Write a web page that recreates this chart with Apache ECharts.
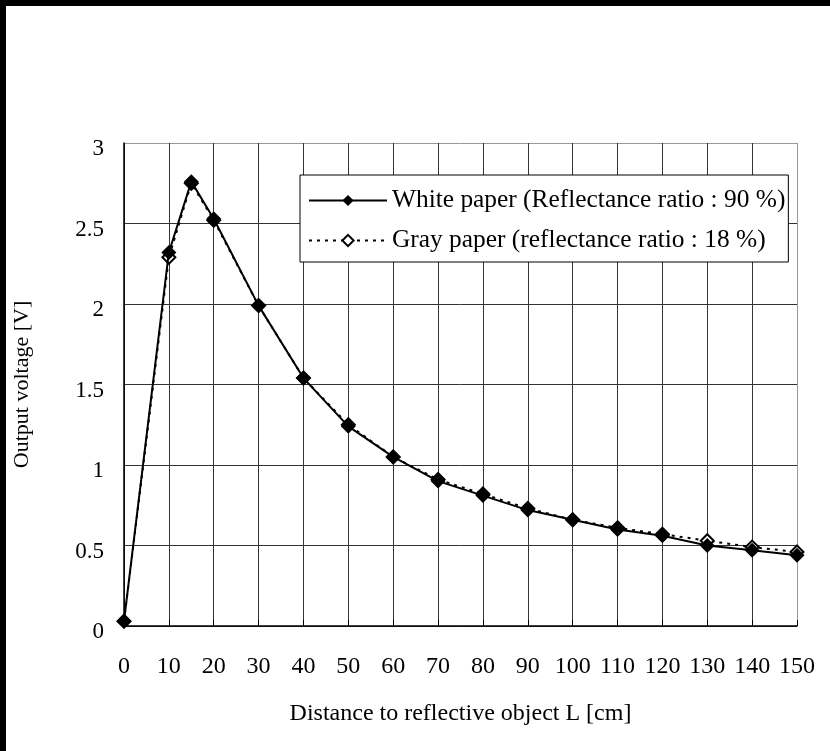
<!DOCTYPE html>
<html>
<head>
<meta charset="utf-8">
<script src="https://cdn.jsdelivr.net/npm/echarts@6/dist/echarts.min.js"></script>
<style>
html,body{margin:0;padding:0;background:#fff;}
#wrap{position:relative;width:830px;height:751px;background:#fff;overflow:hidden;}
#chart{position:absolute;left:0;top:0;width:830px;height:751px;}
.bar{position:absolute;background:#000;}
</style>
</head>
<body>
<div id="wrap">
<div id="chart"></div>
<div class="bar" style="left:0;top:0;width:830px;height:6px;"></div>
<div class="bar" style="left:0;top:0;width:6px;height:751px;"></div>
</div>
<script>
var distances = [0, 10, 15, 20, 30, 40, 50, 60, 70, 80, 90, 100, 110, 120, 130, 140, 150];
var whitePaper = [0.03, 2.32, 2.76, 2.53, 1.99, 1.54, 1.24, 1.05, 0.90, 0.81, 0.72, 0.66, 0.60, 0.56, 0.50, 0.47, 0.44];
var grayPaper  = [0.03, 2.29, 2.75, 2.52, 1.99, 1.54, 1.25, 1.05, 0.91, 0.82, 0.73, 0.66, 0.61, 0.57, 0.53, 0.49, 0.46];
var seriesNames = ['White paper (Reflectance ratio : 90 %)', 'Gray paper (reflectance ratio : 18 %)'];
var xAxisName = 'Distance to reflective object L [cm]';
var yAxisName = 'Output voltage [V]';

function pairs(xs, ys){ return xs.map(function(x,i){ return [x, ys[i]]; }); }

var font = 'Liberation Serif, Times New Roman, serif';
var gridDark = '#333';
var xLineColors = []; for (var i = 0; i < 15; i++) xLineColors.push(gridDark); xLineColors.push('#999');
var yLineColors = []; for (var j = 0; j < 6; j++) yLineColors.push(gridDark); yLineColors.push('#999');

var chart = echarts.init(document.getElementById('chart'), null, {renderer: 'canvas'});
chart.setOption({
  backgroundColor: '#fff',
  animation: false,
  grid: {left: 124, top: 143, width: 673, height: 483, containLabel: false},
  legend: {
    orient: 'vertical',
    left: 300, top: 175,
    padding: [13, 3, 9, 8],
    itemGap: 15,
    itemWidth: 78, itemHeight: 14,
    borderColor: '#000', borderWidth: 1,
    backgroundColor: '#fff',
    textStyle: {fontFamily: font, fontSize: 25.4, color: '#000'},
    data: [seriesNames[0], seriesNames[1]]
  },
  xAxis: {
    type: 'value', min: 0, max: 150, interval: 10,
    name: xAxisName, nameLocation: 'middle', nameGap: 76,
    nameTextStyle: {fontFamily: font, fontSize: 24, color: '#000'},
    axisLine: {show: true, onZero: false, lineStyle: {color: '#000', width: 1.5}},
    axisTick: {show: true, inside: true, length: 6, lineStyle: {color: '#000'}},
    axisLabel: {fontFamily: font, fontSize: 24, color: '#000', margin: 29},
    splitLine: {show: true, lineStyle: {color: xLineColors, width: 1}}
  },
  yAxis: {
    type: 'value', min: 0, max: 3, interval: 0.5,
    name: yAxisName, nameLocation: 'middle', nameGap: 91, nameRotate: 90,
    nameTextStyle: {fontFamily: font, fontSize: 22, color: '#000'},
    axisLine: {show: true, lineStyle: {color: '#000', width: 1.5}},
    axisTick: {show: false},
    axisLabel: {fontFamily: font, fontSize: 23, color: '#000', margin: 20, verticalAlign: 'top', lineHeight: 12},
    splitLine: {show: true, lineStyle: {color: yLineColors, width: 1}}
  },
  series: [
    {
      name: seriesNames[1], type: 'line', z: 2,
      data: pairs(distances, grayPaper),
      symbol: 'diamond', symbolSize: 13,
      lineStyle: {color: '#000', width: 2, type: [3, 5]},
      itemStyle: {color: '#fff', borderColor: '#000', borderWidth: 2},
      color: '#000'
    },
    {
      name: seriesNames[0], type: 'line', z: 3,
      data: pairs(distances, whitePaper),
      symbol: 'diamond', symbolSize: 15,
      lineStyle: {color: '#000', width: 2},
      itemStyle: {color: '#000', borderColor: '#000', borderWidth: 0},
      color: '#000'
    }
  ]
});
</script>
</body>
</html>
